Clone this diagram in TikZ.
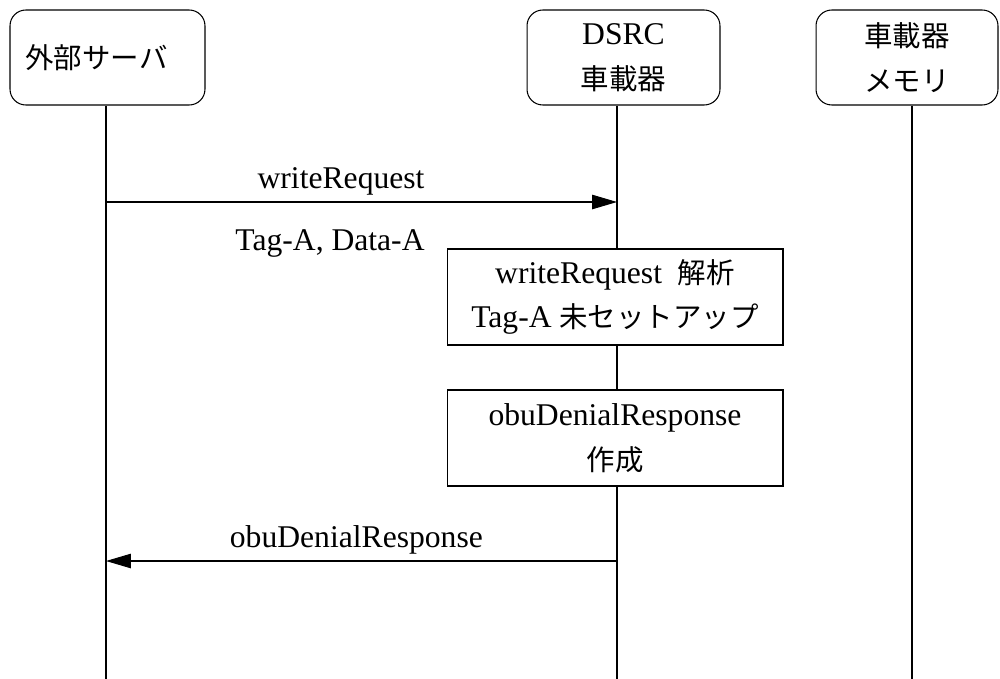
\documentclass[tikz,border=0pt]{standalone}
\usepackage{fontspec}
\setmainfont{Liberation Serif}
\newfontfamily\jpfont[Scale=0.9]{Noto Sans CJK JP}
\usetikzlibrary{arrows.meta}

\begin{document}
\begin{tikzpicture}[
  x=0.02cm, y=-0.02cm,
  line width=0.6pt,
  every node/.style={font=\fontsize{18}{25.5}\selectfont},
  actor/.style={draw, rounded corners=9pt, align=center, inner sep=0pt, minimum height=1.9cm},
  process/.style={draw, fill=white, align=center, inner sep=0pt, minimum width=6.72cm, minimum height=1.92cm},
  msg/.style={-{Triangle[length=0.5cm, width=0.29cm]}},
]
\useasboundingbox (0,0) rectangle (1000,679);

% participants
\node (server) [actor, minimum width=3.9cm] at (107.5,57.5) {{\jpfont 外部サーバ}\hspace*{0.44cm}};
\node (obu) [actor, minimum width=3.86cm] at (623.5,57.5) {DSRC\\{\jpfont 車載器}};
\node (mem) [actor, minimum width=3.64cm] at (907,57.5) {{\jpfont 車載器}\\{\jpfont メモリ}};

% lifelines
\coordinate (server end) at (106,679);
\coordinate (obu end) at (617,679);
\coordinate (mem end) at (912,679);
\draw (server.south -| server end) -- (server end);
\draw (obu.south -| obu end) -- (obu end);
\draw (mem.south -| mem end) -- (mem end);

% request
\coordinate (s req) at (106,202);
\coordinate (o req) at (617,202);
\draw[msg] (s req) -- node[above, pos=0.46] (req) {writeRequest} (o req);
\node (tagdata) at (330,243) {Tag-A, Data-A};

% processing on the OBU
\node (parse) [process] at (615,297) {writeRequest\ \ {\jpfont 解析}\\Tag-A {\jpfont 未セットアップ}};
\node (build) [process] at (615,438) {obuDenialResponse\\{\jpfont 作成}};

% response
\coordinate (o resp) at (617,561);
\coordinate (s resp) at (106,561);
\draw[msg] (o resp) -- node[above, pos=0.51] (resp) {obuDenialResponse} (s resp);
\end{tikzpicture}
\end{document}
